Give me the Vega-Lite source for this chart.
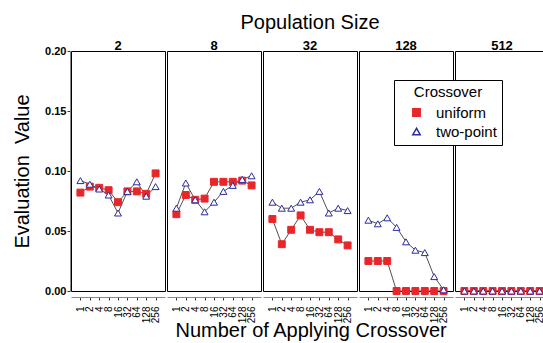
{
  "$schema": "https://vega.github.io/schema/vega-lite/v6.json",
  "padding": {"left": 12, "top": 13, "right": 0, "bottom": 0},
  "background": "white",
  "title": {"text": "Number of Applying Crossover", "orient": "bottom", "anchor": "middle", "dx": 30, "fontSize": 20, "fontWeight": "normal", "font": "Liberation Sans", "color": "black", "offset": -2},
  "data": {"values": [
    {"p":"2","x":"1","s":"uniform","v":0.082},{"p":"2","x":"2","s":"uniform","v":0.087},{"p":"2","x":"4","s":"uniform","v":0.086},{"p":"2","x":"8","s":"uniform","v":0.084},{"p":"2","x":"16","s":"uniform","v":0.074},{"p":"2","x":"32","s":"uniform","v":0.083},{"p":"2","x":"64","s":"uniform","v":0.083},{"p":"2","x":"128","s":"uniform","v":0.081},{"p":"2","x":"256","s":"uniform","v":0.098},
    {"p":"2","x":"1","s":"two-point","v":0.092},{"p":"2","x":"2","s":"two-point","v":0.089},{"p":"2","x":"4","s":"two-point","v":0.085},{"p":"2","x":"8","s":"two-point","v":0.080},{"p":"2","x":"16","s":"two-point","v":0.065},{"p":"2","x":"32","s":"two-point","v":0.083},{"p":"2","x":"64","s":"two-point","v":0.091},{"p":"2","x":"128","s":"two-point","v":0.079},{"p":"2","x":"256","s":"two-point","v":0.087},
    {"p":"8","x":"1","s":"uniform","v":0.064},{"p":"8","x":"2","s":"uniform","v":0.080},{"p":"8","x":"4","s":"uniform","v":0.076},{"p":"8","x":"8","s":"uniform","v":0.077},{"p":"8","x":"16","s":"uniform","v":0.091},{"p":"8","x":"32","s":"uniform","v":0.091},{"p":"8","x":"64","s":"uniform","v":0.091},{"p":"8","x":"128","s":"uniform","v":0.092},{"p":"8","x":"256","s":"uniform","v":0.088},
    {"p":"8","x":"1","s":"two-point","v":0.069},{"p":"8","x":"2","s":"two-point","v":0.090},{"p":"8","x":"4","s":"two-point","v":0.076},{"p":"8","x":"8","s":"two-point","v":0.066},{"p":"8","x":"16","s":"two-point","v":0.074},{"p":"8","x":"32","s":"two-point","v":0.083},{"p":"8","x":"64","s":"two-point","v":0.088},{"p":"8","x":"128","s":"two-point","v":0.093},{"p":"8","x":"256","s":"two-point","v":0.096},
    {"p":"32","x":"1","s":"uniform","v":0.060},{"p":"32","x":"2","s":"uniform","v":0.039},{"p":"32","x":"4","s":"uniform","v":0.051},{"p":"32","x":"8","s":"uniform","v":0.063},{"p":"32","x":"16","s":"uniform","v":0.051},{"p":"32","x":"32","s":"uniform","v":0.049},{"p":"32","x":"64","s":"uniform","v":0.049},{"p":"32","x":"128","s":"uniform","v":0.043},{"p":"32","x":"256","s":"uniform","v":0.038},
    {"p":"32","x":"1","s":"two-point","v":0.074},{"p":"32","x":"2","s":"two-point","v":0.069},{"p":"32","x":"4","s":"two-point","v":0.069},{"p":"32","x":"8","s":"two-point","v":0.074},{"p":"32","x":"16","s":"two-point","v":0.076},{"p":"32","x":"32","s":"two-point","v":0.083},{"p":"32","x":"64","s":"two-point","v":0.065},{"p":"32","x":"128","s":"two-point","v":0.069},{"p":"32","x":"256","s":"two-point","v":0.067},
    {"p":"128","x":"1","s":"uniform","v":0.025},{"p":"128","x":"2","s":"uniform","v":0.025},{"p":"128","x":"4","s":"uniform","v":0.025},{"p":"128","x":"8","s":"uniform","v":0},{"p":"128","x":"16","s":"uniform","v":0},{"p":"128","x":"32","s":"uniform","v":0},{"p":"128","x":"64","s":"uniform","v":0},{"p":"128","x":"128","s":"uniform","v":0},{"p":"128","x":"256","s":"uniform","v":0},
    {"p":"128","x":"1","s":"two-point","v":0.059},{"p":"128","x":"2","s":"two-point","v":0.056},{"p":"128","x":"4","s":"two-point","v":0.061},{"p":"128","x":"8","s":"two-point","v":0.053},{"p":"128","x":"16","s":"two-point","v":0.041},{"p":"128","x":"32","s":"two-point","v":0.034},{"p":"128","x":"64","s":"two-point","v":0.032},{"p":"128","x":"128","s":"two-point","v":0.012},{"p":"128","x":"256","s":"two-point","v":0.001},
    {"p":"512","x":"1","s":"uniform","v":0},{"p":"512","x":"2","s":"uniform","v":0},{"p":"512","x":"4","s":"uniform","v":0},{"p":"512","x":"8","s":"uniform","v":0},{"p":"512","x":"16","s":"uniform","v":0},{"p":"512","x":"32","s":"uniform","v":0},{"p":"512","x":"64","s":"uniform","v":0},{"p":"512","x":"128","s":"uniform","v":0},{"p":"512","x":"256","s":"uniform","v":0},
    {"p":"512","x":"1","s":"two-point","v":0},{"p":"512","x":"2","s":"two-point","v":0},{"p":"512","x":"4","s":"two-point","v":0},{"p":"512","x":"8","s":"two-point","v":0},{"p":"512","x":"16","s":"two-point","v":0},{"p":"512","x":"32","s":"two-point","v":0},{"p":"512","x":"64","s":"two-point","v":0},{"p":"512","x":"128","s":"two-point","v":0},{"p":"512","x":"256","s":"two-point","v":0}
  ]},
  "facet": {"column": {"field": "p", "type": "ordinal", "sort": ["2","8","32","128","512"],
    "header": {"title": "Population Size", "titleFontSize": 20, "titleFontWeight": "normal", "titleFont": "Liberation Sans", "titleColor": "black", "titlePadding": -3,
      "labelFontSize": 13, "labelFontWeight": "bold", "labelFont": "Liberation Sans", "labelColor": "black", "labelPadding": -3}}},
  "spacing": 0,
  "spec": {
    "width": 94,
    "height": 240,
    "encoding": {
      "x": {"field": "x", "type": "ordinal", "sort": ["1","2","4","8","16","32","64","128","256"],
        "scale": {"type": "point", "padding": 1},
        "axis": {"title": null, "labelAngle": 270, "labelFontSize": 10, "labelPadding": 6, "tickSize": 3}},
      "y": {"field": "v", "type": "quantitative", "scale": {"domain": [0, 0.2], "nice": false},
        "axis": {"values": [0, 0.05, 0.1, 0.15, 0.2], "format": ".2f", "title": "Evaluation\u00a0 Value", "labelFontWeight": "bold", "labelFontSize": 11, "labelPadding": 1, "titleFontSize": 20, "titleFontWeight": "normal", "titlePadding": 12, "tickSize": 3}}
    },
    "layer": [
      {"mark": {"type": "line", "color": "#222", "strokeWidth": 0.8},
       "encoding": {"detail": {"field": "s"}}},
      {"mark": {"type": "point", "opacity": 1, "strokeWidth": 1, "size": 48},
       "encoding": {
         "shape": {"field": "s", "type": "nominal", "title": "Crossover", "scale": {"domain": ["uniform","two-point"], "range": ["square","triangle-up"]}},
         "fill": {"field": "s", "type": "nominal", "title": "Crossover", "scale": {"domain": ["uniform","two-point"], "range": ["#e8262a","#ffffff"]}},
         "stroke": {"field": "s", "type": "nominal", "title": "Crossover", "scale": {"domain": ["uniform","two-point"], "range": ["#e8262a","#2b2ba0"]}}
       }}
    ]
  },
  "config": {
    "font": "Liberation Sans",
    "view": {"stroke": "black", "strokeWidth": 1},
    "axis": {"grid": false, "labelColor": "black", "titleColor": "black", "tickColor": "#333", "domainColor": "#888", "labelFont": "Liberation Sans", "titleFont": "Liberation Sans"},
    "legend": {"orient": "none", "legendX": 323, "legendY": 29, "strokeColor": "black", "fillColor": "white", "padding": 5, "titleFontSize": 15, "titleFontWeight": "normal", "titleColor": "black", "labelFontSize": 15, "labelColor": "black", "symbolSize": 55, "symbolOffset": 10, "labelOffset": 12, "titleAnchor": "middle", "labelFont": "Liberation Sans", "titleFont": "Liberation Sans", "rowPadding": 3}
  }
}
